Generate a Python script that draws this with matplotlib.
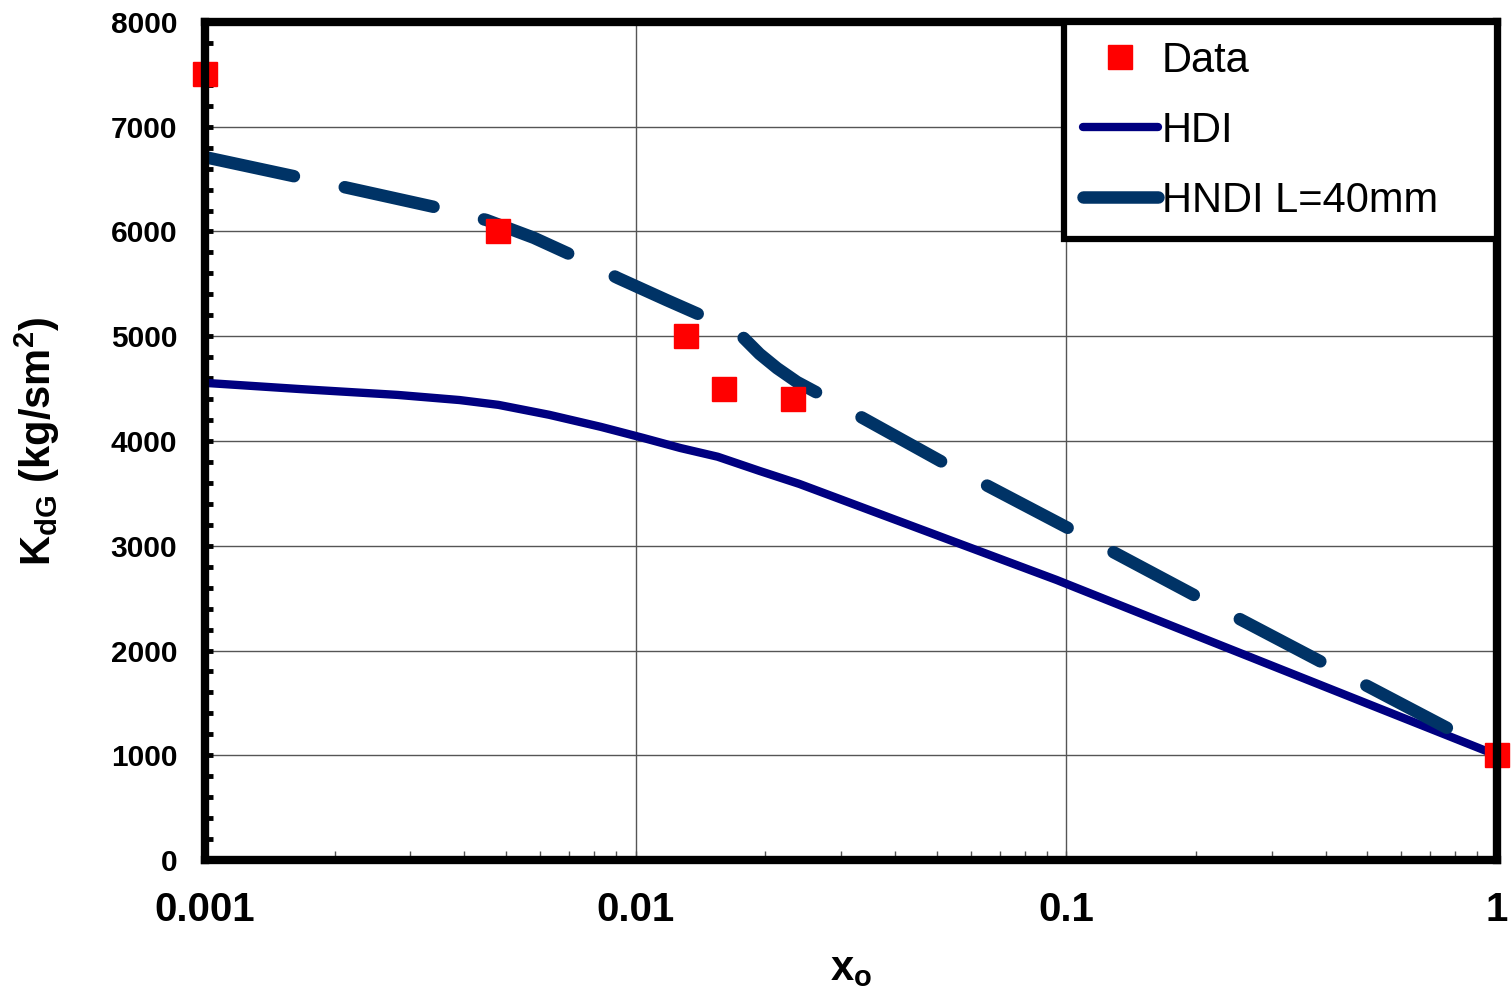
import matplotlib
matplotlib.use("Agg")
import matplotlib.pyplot as plt
from matplotlib.ticker import FixedLocator, MultipleLocator, LogLocator, NullFormatter

plt.rcParams["font.family"] = ["Liberation Sans", "DejaVu Sans"]
plt.rcParams["mathtext.fontset"] = "custom"
plt.rcParams["mathtext.rm"] = "Liberation Sans"
plt.rcParams["mathtext.bf"] = "Liberation Sans:bold"
plt.rcParams["mathtext.it"] = "Liberation Sans:italic"
plt.rcParams["lines.scale_dashes"] = False

# measured points
data_x = [0.001, 0.0048, 0.0131, 0.0160, 0.0232, 1.0]
data_y = [7500, 6000, 5000, 4500, 4400, 1000]

# HDI model curve
hdi_x = [0.001, 0.00166, 0.0028, 0.0039, 0.0048, 0.0063, 0.0083, 0.0104, 0.0127,
         0.0155, 0.0194, 0.024, 0.095, 0.156, 1.0]
hdi_y = [4555, 4496, 4440, 4391, 4345, 4250, 4135, 4030, 3933,
         3850, 3714, 3590, 2673, 2320, 1000]

# HNDI model curve, L = 40 mm
hndi_x = [0.001, 0.0016, 0.0021, 0.0034, 0.0045, 0.0058, 0.0071, 0.0091, 0.0118,
          0.0141, 0.0157, 0.0178, 0.0194, 0.0213, 0.0237, 0.0264, 0.052, 0.103,
          0.202, 0.8, 1.0]
hndi_y = [6710, 6530, 6425, 6235, 6110, 5940, 5775, 5555, 5345,
          5205, 5115, 4985, 4831, 4695, 4563, 4460, 3790, 3150,
          2510, 1220, 1000]

xticks = [0.001, 0.01, 0.1, 1]
xtick_labels = ["0.001", "0.01", "0.1", "1"]
yticks = [0, 1000, 2000, 3000, 4000, 5000, 6000, 7000, 8000]

fig = plt.figure(figsize=(15.11, 9.97), dpi=100)
ax = fig.add_axes([205 / 1511, 1 - 860 / 997, (1497 - 205) / 1511, (860 - 22) / 997])

ax.plot(data_x, data_y, ls="none", marker="s", ms=17, color="#ff0000",
        label="Data", zorder=5, clip_on=False)
ax.plot(hdi_x, hdi_y, color="#000080", lw=6, solid_capstyle="round",
        solid_joinstyle="round", label="HDI", zorder=3)
ax.plot(hndi_x, hndi_y, color="#003366", lw=9, ls=(0, (65.5, 37.4)),
        dash_capstyle="round", solid_capstyle="round", dash_joinstyle="round",
        label="HNDI L=40mm", zorder=4)

ax.set_xscale("log")
ax.set_xlim(0.001, 1)
ax.set_ylim(0, 8000)

ax.xaxis.set_major_locator(FixedLocator(xticks))
ax.set_xticklabels(xtick_labels)
ax.xaxis.set_minor_locator(LogLocator(base=10, subs=range(2, 10)))
ax.xaxis.set_minor_formatter(NullFormatter())
ax.yaxis.set_major_locator(FixedLocator(yticks))
ax.set_yticklabels([str(v) for v in yticks])
ax.yaxis.set_minor_locator(MultipleLocator(200))

ax.grid(True, which="major", color="#555555", lw=1.0, zorder=1)

for s in ax.spines.values():
    s.set_linewidth(6)
    s.set_color("black")
    s.set_zorder(6)

ax.tick_params(axis="y", which="both", direction="in", length=6, width=3.5,
               color="black", pad=20)
ax.tick_params(axis="y", labelsize=21.5)
for lab in ax.get_yticklabels():
    lab.set_fontweight("bold")
ax.tick_params(axis="x", which="both", direction="in", length=6.5, width=1,
               color="#555555", pad=22)
ax.tick_params(axis="x", labelsize=29)
for lab in ax.get_xticklabels():
    lab.set_fontweight("bold")

ax.set_xlabel(r"$\mathbf{x_o}$", fontsize=30, labelpad=15)
ax.set_ylabel(r"$\mathbf{K_{dG}}$ (kg/sm$^\mathbf{2}$)", fontsize=30,
              fontweight="bold", labelpad=35)

x0 = (1064 - 205) / 1292
leg = ax.legend(loc="upper left", bbox_to_anchor=(x0, 1.0, 1 - x0, 0.0),
                mode="expand", borderaxespad=0,
                fontsize=30, frameon=True, fancybox=False, framealpha=1,
                edgecolor="black", handlelength=1.8, handletextpad=0.1,
                labelspacing=0.72, borderpad=0.45)
leg.get_frame().set_linewidth(4.5)
leg.set_zorder(7)

fig.savefig("out.png", dpi=100)
